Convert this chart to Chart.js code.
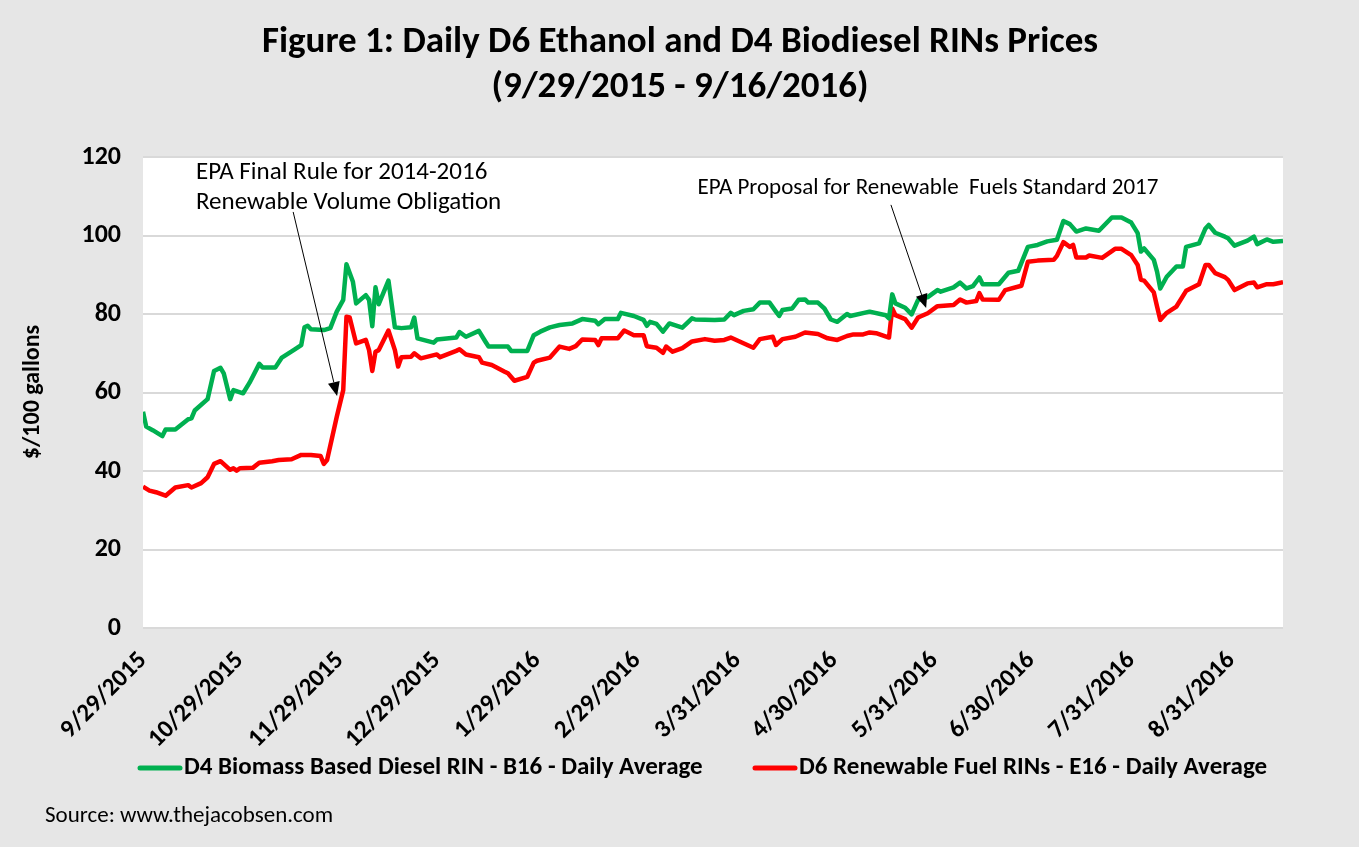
<!DOCTYPE html>
<html>
<head>
<meta charset="utf-8">
<title>Daily D6 Ethanol and D4 Biodiesel RINs Prices</title>
<script src="https://cdn.jsdelivr.net/npm/chart.js@4.4.0/dist/chart.umd.min.js"></script>
<style>
  html, body { margin: 0; padding: 0; background: #e6e6e6; }
  #wrap { width: 1359px; height: 847px; position: relative; }
</style>
</head>
<body>
<div id="wrap"><canvas id="rinChart"></canvas></div>
<script>
// Font close to Calibri (Carlito if present)
const FONT = 'Carlito, Calibri, Lato, sans-serif';

// x axis = days since 9/29/2015
const tickDays = [0, 30, 61, 91, 122, 153, 184, 214, 245, 275, 306, 337];
const tickLabels = ['9/29/2015', '10/29/2015', '11/29/2015', '12/29/2015', '1/29/2016', '2/29/2016',
                    '3/31/2016', '4/30/2016', '5/31/2016', '6/30/2016', '7/31/2016', '8/31/2016'];

// D4 Biomass Based Diesel RIN - B16 ($/100 gallons)
const d4Days = [0, 1, 3, 6, 7, 10, 14, 15, 16, 20, 22, 24, 25, 27, 28, 31, 33, 36, 37, 41,
  43, 47, 49, 50, 51, 52, 56, 58, 60, 62, 63, 65, 66, 69, 70, 71, 72, 73, 76, 78,
  80, 83, 84, 85, 90, 91, 97, 98, 100, 104, 106, 107, 113, 114, 119, 121, 123, 126, 129, 133,
  136, 140, 141, 143, 147, 148, 152, 155, 156, 157, 159, 161, 163, 167, 170, 171, 177, 180, 182, 183,
  186, 189, 191, 194, 196, 197, 198, 201, 203, 205, 206, 209, 211, 213, 215, 218, 219, 225, 230, 231,
  232, 233, 236, 238, 240, 243, 246, 247, 251, 253, 255, 257, 259, 260, 265, 268, 271, 274, 277, 280,
  283, 285, 287, 289, 292, 296, 300, 303, 306, 308, 309, 310, 313, 314, 315, 317, 320, 322, 323, 327,
  329, 330, 332, 335, 336, 338, 342, 344, 345, 348, 350, 353];
const d4Values = [55.1, 51.3, 50.4, 48.9, 50.6, 50.6, 53.2, 53.4, 55.4, 58.3, 65.5, 66.3, 64.9, 58.3, 60.6, 59.8, 62.5, 67.3, 66.4, 66.4,
  68.9, 71.0, 72.1, 76.6, 77.0, 76.1, 75.9, 76.4, 80.6, 83.6, 92.7, 88.2, 82.7, 84.8, 83.6, 76.9, 86.8, 82.5, 88.5, 76.6,
  76.4, 76.6, 79.1, 73.8, 72.7, 73.5, 74.0, 75.4, 74.2, 75.7, 73.0, 71.7, 71.7, 70.6, 70.6, 74.6, 75.5, 76.6, 77.2, 77.6,
  78.7, 78.3, 77.4, 78.7, 78.7, 80.3, 79.5, 78.5, 77.0, 78.0, 77.5, 75.5, 77.6, 76.5, 78.9, 78.6, 78.5, 78.6, 80.3, 79.7,
  80.8, 81.2, 82.9, 82.9, 80.6, 79.5, 81.0, 81.4, 83.6, 83.7, 82.9, 82.9, 81.4, 78.6, 78.0, 80.0, 79.5, 80.6, 79.7, 78.9,
  85.0, 82.7, 81.6, 79.9, 83.6, 84.3, 86.1, 85.7, 86.8, 88.0, 86.5, 87.1, 89.3, 87.6, 87.6, 90.5, 91.0, 97.1, 97.6, 98.5,
  98.9, 103.7, 102.9, 101.0, 101.8, 101.2, 104.6, 104.6, 103.3, 100.6, 95.9, 96.7, 93.8, 90.8, 86.5, 89.5, 92.1, 92.1, 97.1, 98.0,
  101.8, 102.7, 100.7, 99.7, 99.3, 97.4, 98.7, 99.7, 97.8, 99.0, 98.4, 98.6];

// D6 Renewable Fuel RINs - E16 ($/100 gallons)
const d6Days = [0, 2, 4, 7, 10, 14, 15, 18, 20, 22, 24, 27, 28, 29, 30, 34, 36, 40, 42, 46,
  49, 52, 55, 56, 57, 60, 62, 63, 64, 66, 69, 70, 71, 72, 73, 76, 78, 79, 80, 83,
  84, 86, 91, 92, 97, 98, 100, 104, 105, 108, 112, 113, 115, 119, 121, 122, 126, 129, 132, 134,
  136, 140, 141, 142, 147, 149, 152, 155, 156, 159, 161, 162, 164, 167, 170, 174, 177, 180, 182, 189,
  191, 195, 196, 198, 202, 205, 209, 212, 215, 218, 220, 223, 225, 227, 231, 232, 233, 236, 238, 240,
  243, 246, 251, 253, 255, 258, 259, 260, 265, 267, 272, 274, 277, 282, 283, 285, 287, 288, 289, 292,
  293, 297, 301, 303, 306, 308, 309, 310, 313, 314, 315, 317, 320, 323, 327, 329, 330, 332, 335, 336,
  338, 342, 344, 345, 348, 350, 353];
const d6Values = [36.0, 35.0, 34.6, 33.7, 35.8, 36.4, 35.8, 36.9, 38.4, 41.8, 42.5, 40.3, 40.7, 40.1, 40.7, 40.8, 42.1, 42.5, 42.8, 43.0,
  44.1, 44.1, 43.8, 41.8, 42.8, 53.8, 60.6, 79.3, 79.1, 72.5, 73.4, 70.8, 65.5, 70.4, 70.8, 75.8, 70.8, 66.6, 69.0, 69.1,
  70.0, 68.7, 69.7, 69.0, 70.6, 71.0, 69.7, 69.0, 67.6, 67.0, 65.3, 64.9, 63.0, 64.0, 67.6, 68.1, 68.9, 71.7, 71.1, 71.8,
  73.5, 73.4, 72.1, 73.8, 73.8, 75.8, 74.6, 74.6, 71.8, 71.4, 70.1, 71.7, 70.4, 71.3, 73.0, 73.6, 73.2, 73.4, 74.0, 71.4,
  73.6, 74.2, 72.1, 73.6, 74.2, 75.3, 74.9, 73.8, 73.4, 74.4, 74.8, 74.8, 75.3, 75.1, 74.0, 81.4, 79.7, 78.7, 76.5, 79.1,
  80.2, 82.0, 82.3, 83.7, 82.9, 83.3, 85.3, 83.7, 83.6, 86.1, 87.2, 93.3, 93.6, 93.8, 94.8, 98.3, 97.1, 97.6, 94.4, 94.4,
  94.9, 94.3, 96.6, 96.6, 95.0, 92.5, 88.7, 88.5, 85.5, 81.9, 78.5, 80.3, 81.9, 85.9, 87.6, 92.5, 92.5, 90.4, 89.4, 88.7,
  86.1, 87.8, 88.0, 86.8, 87.6, 87.6, 88.1];

// Callouts (anchored in data units: day, value)
const callouts = [
  { lines: ['EPA Final Rule for 2014-2016', 'Renewable Volume Obligation'], textDay: 16.4, textValues: [115.9, 108.3],
    from: [46.5, 106], to: [60.1, 59.1], size: 25 },
  { lines: ['EPA Proposal for Renewable  Fuels Standard 2017'], textDay: 171.7, textValues: [112.1],
    from: [231.6, 107.8], to: [242.5, 81.5], size: 23 }
];

const toPoints = (xs, ys) => xs.map((d, i) => ({ x: d, y: ys[i] }));

// fond gris + zone de tracé blanche
const backdrop = {
  id: 'backdrop',
  beforeDraw(chart) {
    const { ctx, chartArea: a } = chart;
    ctx.save();
    ctx.fillStyle = '#e6e6e6';
    ctx.fillRect(0, 0, chart.width, chart.height);
    ctx.fillStyle = '#ffffff';
    ctx.fillRect(a.left, a.top, a.right - a.left, a.bottom - a.top);
    ctx.restore();
  }
};

function arrow(ctx, x1, y1, x2, y2) {
  const ang = Math.atan2(y2 - y1, x2 - x1);
  const len = 14, half = 6;
  const bx = x2 - len * Math.cos(ang), by = y2 - len * Math.sin(ang);
  ctx.beginPath();
  ctx.moveTo(x1, y1);
  ctx.lineTo(bx, by);
  ctx.stroke();
  ctx.beginPath();
  ctx.moveTo(x2, y2);
  ctx.lineTo(bx + half * Math.sin(ang), by - half * Math.cos(ang));
  ctx.lineTo(bx - half * Math.sin(ang), by + half * Math.cos(ang));
  ctx.closePath();
  ctx.fill();
}

// titres, légende, source, annotations
const overlay = {
  id: 'overlay',
  afterDraw(chart) {
    const { ctx, scales: { x, y } } = chart;
    ctx.save();
    ctx.fillStyle = '#000';
    ctx.strokeStyle = '#000';
    ctx.textBaseline = 'middle';

    // title
    ctx.textAlign = 'center';
    ctx.font = `bold 37px ${FONT}`;
    ctx.fillText('Figure 1: Daily D6 Ethanol and D4 Biodiesel RINs Prices', 680, 43);
    ctx.fillText('(9/29/2015 - 9/16/2016)', 680, 88);

    // y axis title
    ctx.save();
    ctx.translate(33, 392);
    ctx.rotate(-Math.PI / 2);
    ctx.font = `bold 24px ${FONT}`;
    ctx.fillText('$/100 gallons', 0, 0);
    ctx.restore();

    // callouts
    ctx.textAlign = 'left';
    ctx.lineWidth = 1;
    callouts.forEach(c => {
      ctx.font = `${c.size}px ${FONT}`;
      c.lines.forEach((t, i) => ctx.fillText(t, x.getPixelForValue(c.textDay), y.getPixelForValue(c.textValues[i])));
      arrow(ctx, x.getPixelForValue(c.from[0]), y.getPixelForValue(c.from[1]),
                 x.getPixelForValue(c.to[0]), y.getPixelForValue(c.to[1]));
    });

    // legend
    ctx.font = `bold 25px ${FONT}`;
    const legendX = [138, 753];
    chart.data.datasets.forEach((ds, i) => {
      const lx = legendX[i], ly = 768;
      ctx.strokeStyle = ds.borderColor;
      ctx.lineWidth = 5;
      ctx.lineCap = 'round';
      ctx.beginPath();
      ctx.moveTo(lx + 2, ly);
      ctx.lineTo(lx + 42, ly);
      ctx.stroke();
      ctx.fillText(ds.label, lx + 46, ly);
    });

    // source
    ctx.font = `23px ${FONT}`;
    ctx.fillText('Source: www.thejacobsen.com', 45, 816);
    ctx.restore();
  }
};

const rinChart = new Chart(document.getElementById('rinChart'), {
  type: 'line',
  data: {
    datasets: [
      {
        label: 'D4 Biomass Based Diesel RIN - B16 - Daily Average',
        data: toPoints(d4Days, d4Values),
        borderColor: '#00b050',
        borderWidth: 4.5,
        borderJoinStyle: 'round',
        pointRadius: 0,
        tension: 0
      },
      {
        label: 'D6 Renewable Fuel RINs - E16 - Daily Average',
        data: toPoints(d6Days, d6Values),
        borderColor: '#ff0000',
        borderWidth: 4.5,
        borderJoinStyle: 'round',
        pointRadius: 0,
        tension: 0
      }
    ]
  },
  options: {
    responsive: true,
    maintainAspectRatio: false,
    animation: false,
    layout: { padding: { left: 0, top: 157, right: 76, bottom: 0 } },
    plugins: { legend: { display: false }, title: { display: false }, tooltip: { enabled: false } },
    scales: {
      x: {
        type: 'linear',
        min: 0,
        max: 353,
        afterBuildTicks: s => { s.ticks = tickDays.map(v => ({ value: v })); },
        afterFit: s => { s.height = 219; },
        grid: { display: false },
        border: { display: false },
        ticks: {
          autoSkip: false,
          minRotation: 45,
          maxRotation: 45,
          padding: 10,
          color: '#000',
          font: { family: FONT, size: 25, weight: 'bold' },
          callback: v => tickLabels[tickDays.indexOf(v)]
        }
      },
      y: {
        min: 0,
        max: 120,
        afterFit: s => { s.width = 143; },
        grid: { color: '#d9d9d9', lineWidth: 2, drawTicks: false },
        border: { display: false },
        ticks: {
          stepSize: 20,
          padding: 22,
          color: '#000',
          font: { family: FONT, size: 26, weight: 'bold' }
        }
      }
    }
  },
  plugins: [backdrop, overlay]
});
</script>
</body>
</html>
